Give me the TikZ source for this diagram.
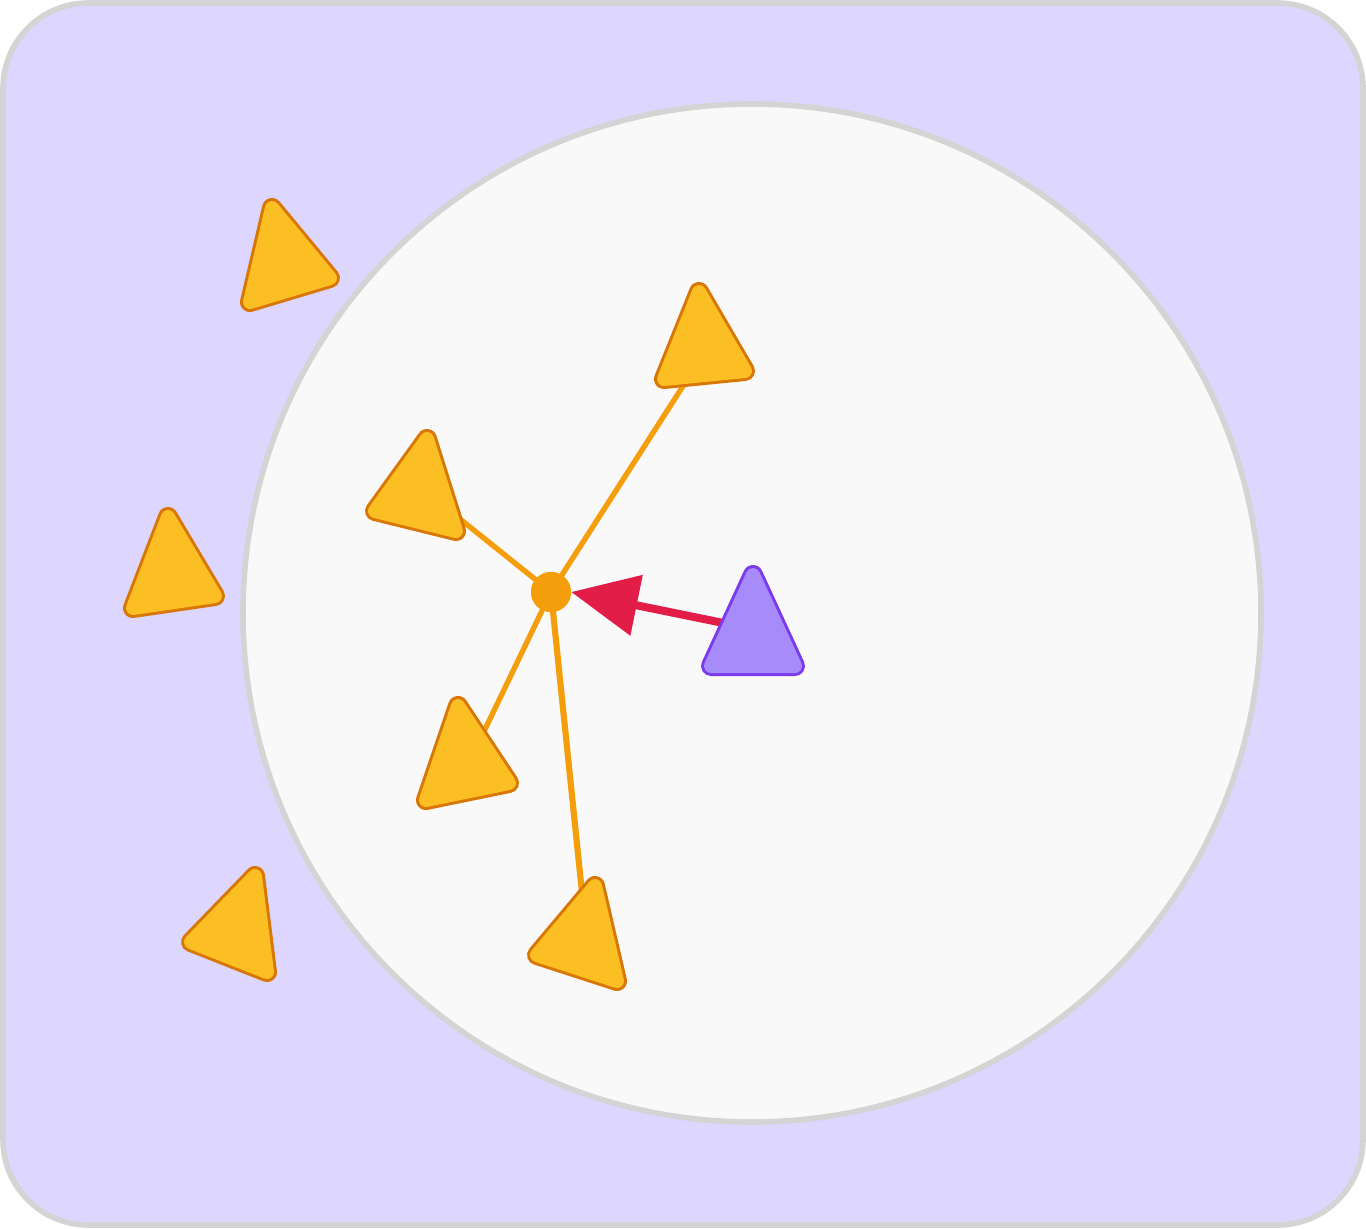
\documentclass[tikz,border=0pt]{standalone}
\usetikzlibrary{arrows.meta}
\definecolor{bgpurple}{HTML}{DDD6FE}
\definecolor{bordergray}{HTML}{D4D4D4}
\definecolor{circfill}{HTML}{F9F9F9}
\definecolor{triyellow}{HTML}{FBBF24}
\definecolor{tristroke}{HTML}{D97706}
\definecolor{linkorange}{HTML}{F59E0B}
\definecolor{agentfill}{HTML}{A78BFA}
\definecolor{agentstroke}{HTML}{7C3AED}
\definecolor{arrowred}{HTML}{E11D48}
\newcommand{\rtri}[5]{%
  \draw[draw=#5stroke,fill=#5stroke,line width=15pt,line join=round] #1 -- #2 -- #3 -- cycle;
  \draw[draw=#4,fill=#4,line width=10.5pt,line join=round] #1 -- #2 -- #3 -- cycle;}
\begin{document}
\begin{tikzpicture}[x=0.75pt,y=-0.75pt,
  link/.style={draw=linkorange,line width=4pt},
  hub/.style={circle,fill=linkorange,minimum size=30pt,inner sep=0pt}]
\useasboundingbox (0,0) rectangle (1366,1228);
% background panel
\draw[fill=bgpurple,draw=bordergray,line width=4.2pt,rounded corners=64pt] (3,3) rectangle (1363,1225);
% big circle
\draw[fill=circfill,draw=bordergray,line width=4.2pt] (752,613) circle[radius=509];
% hub and link targets
\coordinate (t2) at (692,372);
\coordinate (t3) at (440,503);
\coordinate (t6) at (476,748);
\coordinate (t8) at (584,912);
\coordinate (agent) at (748,628);
\node[hub] (hub) at (551,592) {};
\draw[link] (hub.center) -- (t2);
\draw[link] (hub.center) -- (t3);
\draw[link] (hub.center) -- (t6);
\draw[link,line width=4.6pt] (hub.center) -- (t8);
\node[hub] at (551,592) {};
% red arrow
\draw[draw=arrowred,line width=6pt,-{Triangle[length=50pt,width=45pt]}] (agent) -- (hub.east);
% triangles outside the circle
\rtri{(272,208)}{(250,302)}{(330,278)}{triyellow}{tri}
\rtri{(168,517)}{(133,608)}{(215,596)}{triyellow}{tri}
\rtri{(255,876)}{(191,942)}{(267,972)}{triyellow}{tri}
% triangles inside the circle
\rtri{(699,292)}{(664,379)}{(745,371)}{triyellow}{tri}
\rtri{(427,439)}{(375,511)}{(456,531)}{triyellow}{tri}
\rtri{(458,706)}{(426,800)}{(509,783)}{triyellow}{tri}
\rtri{(595,886)}{(537,955)}{(617,981)}{triyellow}{tri}
% agent triangle
\rtri{(753,575)}{(711,666)}{(795,666)}{agentfill}{agent}
\end{tikzpicture}
\end{document}
